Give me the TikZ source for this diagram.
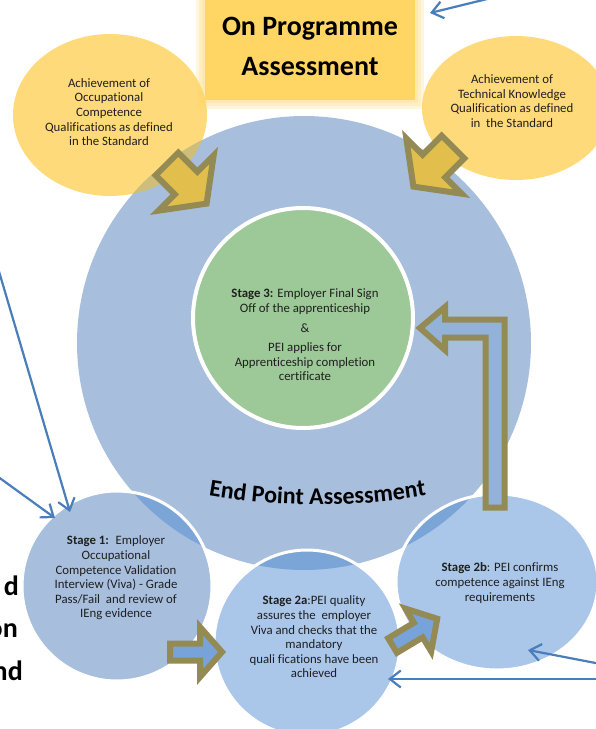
\documentclass[tikz,border=0pt]{standalone}
\usepackage{fontspec}
\setmainfont{Carlito}[Ligatures=NoCommon]
\usetikzlibrary{arrows.meta,decorations.text}

\definecolor{epablue}{RGB}{167,190,221}
\definecolor{stageblue}{RGB}{170,198,233}
\definecolor{lensblue}{RGB}{124,165,215}
\definecolor{quals}{RGB}{255,218,122}
\definecolor{boxyellow}{RGB}{255,214,100}
\definecolor{lensyellow}{RGB}{206,190,122}
\definecolor{qualarrow}{RGB}{226,191,76}
\definecolor{signgreen}{RGB}{157,200,151}
\definecolor{olive}{RGB}{148,138,84}
\definecolor{returnblue}{RGB}{146,178,215}
\definecolor{passblue}{RGB}{120,163,218}
\definecolor{linkblue}{RGB}{74,126,187}

\tikzset{
  circletext/.style={align=center,inner sep=0pt,text=black!88,font=\fontsize{12.8}{14.6}\selectfont},
  titletext/.style={align=center,inner sep=0pt,font=\fontsize{28}{40}\selectfont\bfseries},
  cuttext/.style={anchor=base east,inner sep=0pt,font=\fontsize{28}{40}\selectfont\bfseries},
  blockarrow/.style={draw=olive,line width=6pt,line join=miter,miter limit=4},
  whiteedge/.style={white,line width=3pt},
  glow/.style={boxyellow,opacity=0.22},
  link/.style={linkblue,line width=2.2pt,-{Straight Barb[length=11pt,width=17pt]}}
}

\begin{document}
\begin{tikzpicture}[x=1pt,y=-1pt]
\useasboundingbox (0,0) rectangle (596,729);

% qualification circles
\fill[quals] (110,115) ellipse [x radius=97, y radius=81];
\fill[quals] (516,108) ellipse [x radius=94, y radius=72];

% end point assessment circle
\fill[epablue] (304,343) circle [radius=227];
\begin{scope}
\clip (304,343) circle [radius=227];
\fill[lensyellow] (110,115) ellipse [x radius=97, y radius=81];
\fill[lensyellow] (516,108) ellipse [x radius=94, y radius=72];
\end{scope}

% on programme box, soft edge
\fill[glow] (196,-6) rectangle (424,109);
\fill[glow] (199,-6) rectangle (421,106);
\fill[glow] (202,-6) rectangle (418,103);
\fill[boxyellow] (205,-6) rectangle (415,100);
\node[titletext] (onprog) at (310,46) {On Programme\\Assessment};

% stage 3
\fill[signgreen] (303,318) circle [radius=110];
\draw[white,line width=4pt] (303,318) circle [radius=110];

% stages 1, 2a, 2b
\fill[epablue] (117,586) circle [radius=95];
\fill[stageblue] (307,643) circle [radius=93];
\fill[stageblue] (497,582) ellipse [x radius=101, y radius=88];
\begin{scope}
\clip (117,586) circle [radius=95];
\fill[lensblue] (304,343) circle [radius=227];
\end{scope}
\begin{scope}
\clip (307,643) circle [radius=93];
\fill[lensblue] (304,343) circle [radius=227];
\end{scope}
\begin{scope}
\clip (497,582) ellipse [x radius=101, y radius=88];
\fill[lensblue] (304,343) circle [radius=227];
\end{scope}
\draw[whiteedge] (117,586) circle [radius=95];
\draw[whiteedge] (307,643) circle [radius=93];
\draw[whiteedge] (497,582) ellipse [x radius=101, y radius=88];

% block arrows
\begin{scope}[shift={(167,164)},rotate=-45]
\filldraw[blockarrow,fill=qualarrow] (0,-16) -- (27,-16) -- (27,-39) -- (56,0) -- (27,39) -- (27,16) -- (0,16) -- cycle;
\end{scope}
\begin{scope}[shift={(453,147)},rotate=-135]
\filldraw[blockarrow,fill=qualarrow] (0,-16) -- (27,-16) -- (27,-39) -- (56,0) -- (27,39) -- (27,16) -- (0,16) -- cycle;
\end{scope}
\begin{scope}[shift={(170,652)}]
\filldraw[blockarrow,fill=passblue] (0,-8.5) -- (30,-8.5) -- (30,-25) -- (52,0) -- (30,25) -- (30,8.5) -- (0,8.5) -- cycle;
\end{scope}
\begin{scope}[shift={(392.6,645.5)},rotate=31]
\filldraw[blockarrow,fill=passblue] (0,-8.5) -- (30,-8.5) -- (30,-25) -- (52,0) -- (30,25) -- (30,8.5) -- (0,8.5) -- cycle;
\end{scope}
\filldraw[blockarrow,fill=returnblue] (420,328) -- (445,307) -- (445,319.5) -- (504.5,319.5) -- (504.5,507.5) -- (485.5,507.5) -- (485.5,337.5) -- (445,337.5) -- (445,350) -- cycle;

% texts
\node[circletext] (qualocc) at (109,112) {Achievement of\\Occupational\\Competence\\Qualifications as defined\\in the Standard};
\node[circletext] (qualtech) at (512,101) {Achievement of\\Technical Knowledge\\Qualification as defined\\in~ the Standard};
\node[circletext] (stagethree) at (305,335) {\textbf{Stage 3:} Employer Final Sign\\Off of the apprenticeship\\[5pt]\&\\[5pt]PEI applies for\\Apprenticeship completion\\certificate};
\node[circletext] (stageone) at (116,578) {\textbf{Stage 1:}~ Employer\\Occupational\\Competence Validation\\Interview (Viva) - Grade\\Pass/Fail~ and review of\\IEng evidence};
\node[circletext] (stagetwoa) at (314,637) {\textbf{Stage 2a}:PEI quality\\assures the~ employer\\Viva and checks that the\\mandatory\\quali fications have been\\achieved};
\node[circletext] (stagetwob) at (500,583) {\textbf{Stage 2b}: PEI confirms\\competence against IEng\\requirements};

\path[decorate,decoration={text along path,text align=center,
  text={|\fontsize{24}{24}\selectfont\bfseries|End Point Assessment}}]
  (190,492) .. controls (270,509) and (365,509) .. (445,492);

% text cut by the left edge
\node[cuttext] (cutd) at (19,595) {d};
\node[cuttext] (cuton) at (18,637) {on};
\node[cuttext] (cutnd) at (23,680) {nd};

% links from outside
\coordinate (feedtop) at (532,-12);
\coordinate (feedtopend) at (430,13);
\coordinate (feedleft) at (-10,241);
\coordinate (feedleftend) at (70,512);
\coordinate (feedlow) at (-10,471);
\coordinate (feedlowend) at (55,518);
\coordinate (feedright) at (606,665);
\coordinate (feedrightend) at (528,650);
\coordinate (feedbottom) at (606,679);
\coordinate (feedbottomend) at (388,679);
\draw[link] (feedtop) -- (feedtopend);
\draw[link] (feedleft) -- (feedleftend);
\draw[link] (feedlow) -- (feedlowend);
\draw[link] (feedright) -- (feedrightend);
\draw[link] (feedbottom) -- (feedbottomend);

\end{tikzpicture}
\end{document}
